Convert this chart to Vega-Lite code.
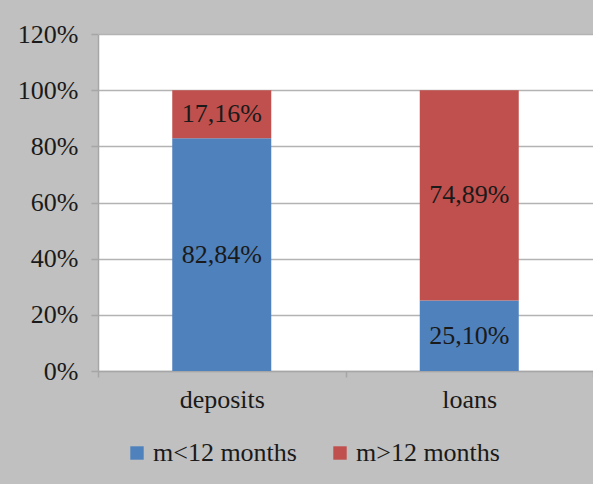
{
  "$schema": "https://vega.github.io/schema/vega-lite/v6.json",
  "autosize": "none",
  "width": 495,
  "height": 337,
  "padding": {"left": 98, "top": 34, "right": 0, "bottom": 113},
  "background": "#c0c0c0",
  "config": {
    "locale": {"number": {"decimal": ",", "thousands": ".", "grouping": [3], "currency": ["", " €"]}},
    "view": {"fill": "white", "stroke": null},
    "font": "'Liberation Serif', 'Times New Roman', serif",
    "legend": {"labelFont": "'Liberation Serif', 'Times New Roman', serif", "labelFontSize": 26, "labelColor": "#1a1a1a"},
    "axis": {"labelFont": "'Liberation Serif', 'Times New Roman', serif", "labelFontSize": 26, "labelColor": "#1a1a1a", "domainColor": "#a6a6a6", "tickColor": "#a6a6a6", "gridColor": "#b3b3b3", "domainWidth": 1.5, "gridWidth": 1.5, "tickWidth": 1.5, "title": null}
  },
  "data": {
    "values": [
      {"category": "deposits", "term": "m<12 months", "order": 1, "value": 0.8284},
      {"category": "deposits", "term": "m>12 months", "order": 2, "value": 0.1716},
      {"category": "loans", "term": "m<12 months", "order": 1, "value": 0.2510},
      {"category": "loans", "term": "m>12 months", "order": 2, "value": 0.7489}
    ]
  },
  "encoding": {
    "x": {
      "field": "category", "type": "nominal", "sort": ["deposits", "loans"],
      "scale": {"paddingInner": 0, "paddingOuter": 0},
      "axis": {"labelAngle": 0, "tickBand": "extent", "tickSize": 6, "labelPadding": 9, "grid": false}
    }
  },
  "layer": [
    {
      "mark": {"type": "bar", "width": {"band": 0.4}},
      "encoding": {
        "y": {
          "field": "value", "type": "quantitative", "stack": "zero",
          "scale": {"domain": [0, 1.2], "nice": false},
          "axis": {"values": [0, 0.2, 0.4, 0.6, 0.8, 1.0, 1.2], "format": ".0%", "tickSize": 7, "labelPadding": 13, "grid": true}
        },
        "color": {
          "field": "term", "type": "nominal",
          "scale": {"domain": ["m<12 months", "m>12 months"], "range": ["#4f81bd", "#c0504d"]},
          "legend": {
            "title": null, "orient": "none", "direction": "horizontal",
            "legendX": 26, "legendY": 406,
            "symbolType": "square", "symbolSize": 180, "symbolStrokeWidth": 0,
            "labelFontSize": 26, "labelColor": "#1a1a1a",
            "labelOffset": 3, "columnPadding": 30, "labelLimit": 300
          }
        },
        "order": {"field": "order", "type": "quantitative"}
      }
    },
    {
      "mark": {"type": "text", "fontSize": 26, "color": "#1a1a1a", "baseline": "middle"},
      "encoding": {
        "y": {"field": "value", "type": "quantitative", "stack": "zero", "bandPosition": 0.5},
        "detail": {"field": "term", "type": "nominal"},
        "order": {"field": "order", "type": "quantitative"},
        "text": {"field": "value", "type": "quantitative", "format": ".2%"}
      }
    }
  ]
}
